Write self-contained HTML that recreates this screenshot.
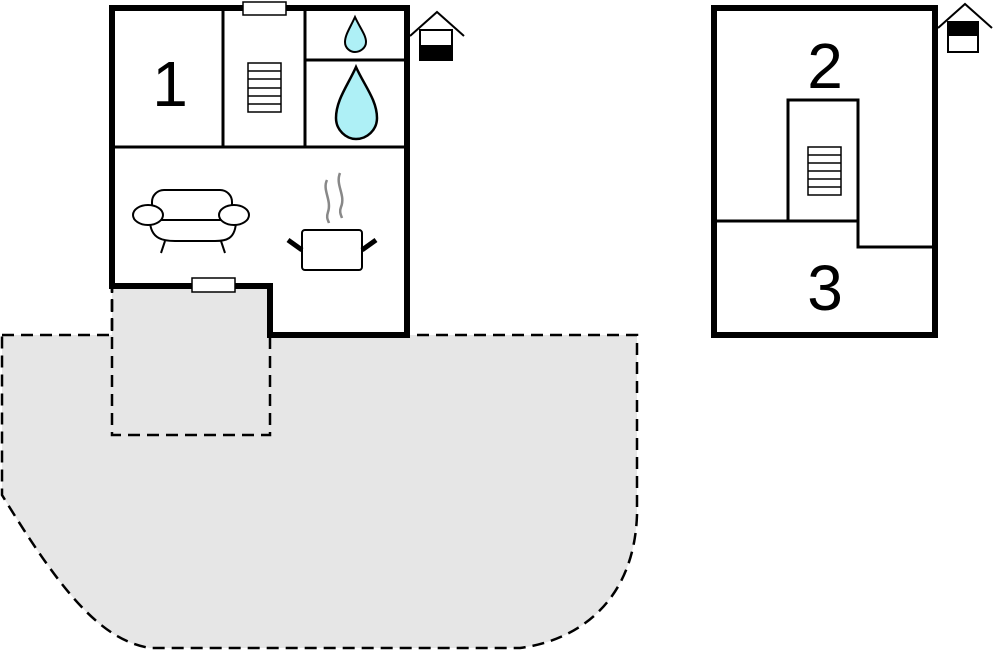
<!DOCTYPE html>
<html><head><style>html,body{margin:0;padding:0;background:#fff}svg{display:block}</style></head>
<body>
<svg width="993" height="652" viewBox="0 0 993 652" xmlns="http://www.w3.org/2000/svg">
<!-- shaded dashed terrace -->
<path d="M2,335 L112,335 L112,286 L270,286 L270,335 L637,335 L637,515 C634,600 580,640 520,648 L150,648 C100,640 60,590 2,495 Z" fill="#e6e6e6" stroke="#000" stroke-width="2.5" stroke-dasharray="12,7"/>
<rect x="112" y="286" width="158" height="149" fill="none" stroke="#000" stroke-width="2.5" stroke-dasharray="12,7"/>
<!-- left house -->
<path d="M112,8 L407,8 L407,335 L270,335 L270,286 L112,286 Z" fill="#fff" stroke="#000" stroke-width="6" stroke-linejoin="miter"/>
<g stroke="#000" stroke-width="3" fill="none">
<line x1="112" y1="147" x2="407" y2="147"/>
<line x1="223" y1="8" x2="223" y2="147"/>
<line x1="305" y1="8" x2="305" y2="147"/>
<line x1="305" y1="60" x2="407" y2="60"/>
</g>
<rect x="243" y="2" width="43" height="13" fill="#fff" stroke="#000" stroke-width="1.5"/>
<rect x="192" y="278" width="43" height="14" fill="#fff" stroke="#000" stroke-width="1.5"/>
<g stroke="#000" stroke-width="1.5" fill="#fff">
<rect x="248" y="63" width="33" height="49"/>
<line x1="248" y1="71" x2="281" y2="71"/><line x1="248" y1="79" x2="281" y2="79"/><line x1="248" y1="88" x2="281" y2="88"/><line x1="248" y1="96" x2="281" y2="96"/><line x1="248" y1="104" x2="281" y2="104"/>
</g>
<text x="170" y="106" font-family="Liberation Sans, sans-serif" font-size="64" text-anchor="middle">1</text>
<path d="M355,17 C350,28 345,35 345,42 C345,48 350,52 355,52 C360,52 366,48 366,42 C366,35 360,28 355,17 Z" fill="#aef0f6" stroke="#000" stroke-width="2"/>
<path d="M356,67 C348,85 336,100 336,118 C336,130 346,139 356,139 C367,139 377,130 377,118 C377,100 364,85 356,67 Z" fill="#aef0f6" stroke="#000" stroke-width="2.5"/>
<!-- sofa -->
<g stroke="#000" stroke-width="2" fill="#fff">
<path d="M150,220 C150,240 165,241 175,241 L215,241 C225,241 236,240 236,220 Z"/>
<rect x="152" y="190" width="80" height="30" rx="12"/>
<ellipse cx="148" cy="215" rx="15" ry="10"/>
<ellipse cx="234" cy="215" rx="15" ry="10"/>
<line x1="165" y1="241" x2="161" y2="253"/><line x1="221" y1="241" x2="225" y2="253"/>
</g>
<!-- pot -->
<g stroke="#000" fill="#fff">
<rect x="302" y="230" width="60" height="40" rx="3" stroke-width="2"/>
<line x1="288" y1="240" x2="302" y2="250" stroke-width="5"/>
<line x1="376" y1="240" x2="362" y2="250" stroke-width="5"/>
</g>
<g stroke="#888" stroke-width="2.5" fill="none">
<path d="M327,180 C322,190 332,200 328,212 C326,218 328,220 329,223"/>
<path d="M340,173 C335,185 346,195 341,207 C339,212 341,215 342,218"/>
</g>
<!-- left house icon -->
<polyline points="410,36 437,12 464,36" fill="none" stroke="#000" stroke-width="2"/>
<rect x="420" y="30" width="32" height="30" fill="#fff" stroke="#000" stroke-width="2"/>
<rect x="420" y="45" width="32" height="15" fill="#000"/>
<!-- right house -->
<rect x="714" y="8" width="221" height="327" fill="#fff" stroke="#000" stroke-width="6"/>
<g stroke="#000" stroke-width="3" fill="none">
<polyline points="714,221 788,221 788,100 858,100 858,247 935,247"/>
<line x1="788" y1="221" x2="858" y2="221"/>
</g>
<g stroke="#000" stroke-width="1.5" fill="#fff">
<rect x="808" y="147" width="33" height="48"/>
<line x1="808" y1="155" x2="841" y2="155"/><line x1="808" y1="163" x2="841" y2="163"/><line x1="808" y1="171" x2="841" y2="171"/><line x1="808" y1="179" x2="841" y2="179"/><line x1="808" y1="187" x2="841" y2="187"/>
</g>
<text x="825" y="88" font-family="Liberation Sans, sans-serif" font-size="64" text-anchor="middle">2</text>
<text x="825" y="310" font-family="Liberation Sans, sans-serif" font-size="64" text-anchor="middle">3</text>
<polyline points="938,28 965,4 992,28" fill="none" stroke="#000" stroke-width="2"/>
<rect x="948" y="22" width="30" height="30" fill="#fff" stroke="#000" stroke-width="2"/>
<rect x="948" y="22" width="30" height="14" fill="#000"/>
</svg>
</body></html>
